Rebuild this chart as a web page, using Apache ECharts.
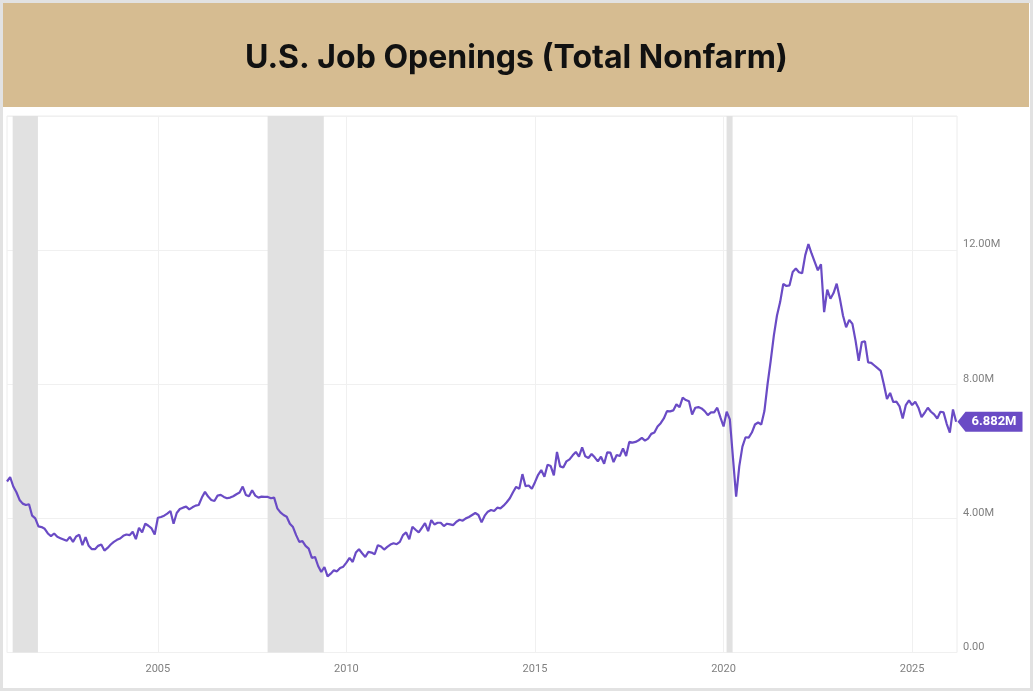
<!DOCTYPE html>
<html><head><meta charset="utf-8">
<script src="https://cdn.jsdelivr.net/npm/echarts@6/dist/echarts.min.js"></script>
<style>
html,body{margin:0;padding:0;background:#fff;}
#frame{position:absolute;left:0;top:0;width:1033px;height:691px;box-sizing:border-box;border:3px solid #e2e2e2;background:#fff;}
#head{position:absolute;left:3px;top:3px;width:1026px;height:104px;background:#d6bc91;}
#chart{position:absolute;left:0;top:0;width:1033px;height:691px;}
</style></head><body>
<div id="frame"></div><div id="head"></div><div id="chart"></div>
<script>
// Monthly job openings (millions), starting January 2001
const startYear = 2001;
const openings = [
  5.10,5.23,4.95,4.78,4.55,4.44,4.40,4.42,4.08,4.00,3.76,3.74,
  3.69,3.55,3.47,3.55,3.45,3.41,3.37,3.33,3.45,3.30,3.46,3.51,
  3.20,3.44,3.18,3.08,3.08,3.18,3.22,3.04,3.12,3.22,3.30,3.36,
  3.40,3.48,3.52,3.50,3.60,3.38,3.72,3.58,3.84,3.78,3.70,3.52,
  4.02,4.04,4.08,4.14,4.22,3.84,4.16,4.28,4.32,4.35,4.27,4.33,
  4.38,4.40,4.62,4.79,4.65,4.55,4.52,4.68,4.70,4.64,4.60,4.62,
  4.66,4.72,4.77,4.95,4.70,4.66,4.84,4.68,4.62,4.65,4.64,4.64,
  4.60,4.62,4.30,4.18,4.10,4.05,3.84,3.74,3.50,3.30,3.32,3.18,
  3.10,2.82,2.85,2.58,2.40,2.55,2.27,2.35,2.45,2.42,2.52,2.56,
  2.68,2.82,2.70,2.98,3.08,2.96,2.85,3.00,2.98,2.93,3.20,3.16,
  3.07,3.15,3.22,3.26,3.23,3.30,3.50,3.58,3.38,3.75,3.66,3.58,
  3.72,3.86,3.62,3.95,3.82,3.87,3.87,3.77,3.84,3.82,3.80,3.90,
  3.96,3.93,4.00,4.04,4.10,4.16,4.10,3.88,4.08,4.20,4.25,4.22,
  4.32,4.30,4.38,4.48,4.60,4.78,4.94,4.88,5.32,4.96,4.98,4.88,
  5.08,5.30,5.44,5.24,5.60,5.56,5.28,5.98,5.55,5.52,5.70,5.76,
  5.88,5.98,5.84,6.12,5.85,5.80,5.92,5.82,5.70,5.84,5.63,5.97,
  5.96,5.68,5.89,5.86,6.09,5.86,6.28,6.26,6.28,6.33,6.40,6.32,
  6.38,6.52,6.56,6.74,6.84,6.98,7.20,7.19,7.22,7.40,7.32,7.60,
  7.53,7.49,7.10,7.30,7.32,7.28,7.20,7.08,7.16,7.16,7.30,7.01,
  6.74,7.18,6.95,5.80,4.65,5.55,6.14,6.42,6.41,6.56,6.80,6.86,
  6.80,7.20,8.00,8.70,9.45,10.05,10.45,10.99,10.93,10.95,11.35,11.45,
  11.34,11.31,11.85,12.18,11.90,11.65,11.40,11.58,10.15,10.82,10.55,10.72,
  11.00,10.56,10.05,9.70,9.92,9.80,9.30,8.70,9.26,9.28,8.65,8.64,
  8.56,8.48,8.40,8.00,7.56,7.74,7.47,7.48,7.34,6.98,7.38,7.52,
  7.38,7.48,7.30,7.02,7.15,7.30,7.18,7.10,6.98,7.18,7.16,6.82,
  6.56,7.25,6.882
];
const tickYears = [2005, 2010, 2015, 2020, 2025];
const yTicks = [0, 4, 8, 12, 16];
const recessions = [[2001.15, 2001.82], [2007.91, 2009.40], [2020.08, 2020.24]];
const titleText = 'U.S. Job Openings (Total Nonfarm)';
const lastLabel = '6.882M';
const X_MIN = 2001.0, X_MAX = 2026.19;

const seriesData = openings.map((v, i) => [startYear + i / 12, v]);
const lastValue = openings[openings.length - 1];

const chart = echarts.init(document.getElementById('chart'), null, {renderer: 'canvas'});
chart.setOption({
  backgroundColor: 'transparent',
  animation: false,
  graphic: [{
    type: 'text', left: 'center', top: 42,
    style: {text: titleText, fill: '#111', font: 'bold 32px Inter, Roboto, sans-serif'}
  }],
  grid: {left: 7, right: 76, top: 116, bottom: 38.5, show: true, borderColor: '#ececec', borderWidth: 1, containLabel: false},
  xAxis: {
    type: 'value', min: X_MIN, max: X_MAX,
    axisLine: {show: false},
    axisTick: {show: false, customValues: tickYears},
    axisLabel: {customValues: tickYears, color: '#808080', fontSize: 11, fontFamily: 'Roboto', margin: 11, formatter: v => String(Math.round(v))},
    splitLine: {show: true, lineStyle: {color: '#f0f0f0', width: 1}}
  },
  yAxis: {
    type: 'value', position: 'right', min: yTicks[0], max: yTicks[yTicks.length - 1], interval: 4,
    axisLine: {show: false}, axisTick: {show: false},
    axisLabel: {color: '#808080', fontSize: 11, fontFamily: 'Roboto', margin: 6, verticalAlign: 'bottom', lineHeight: 11,
      formatter: v => v === 0 ? '0.00' : (v >= 16 ? '' : v.toFixed(2) + 'M')},
    splitLine: {show: true, lineStyle: {color: '#f0f0f0', width: 1}}
  },
  series: [{
    type: 'line', data: seriesData, showSymbol: false, clip: true,
    lineStyle: {color: '#6a4bc5', width: 2.2}, itemStyle: {color: '#6a4bc5'},
    markArea: {
      silent: true,
      itemStyle: {color: '#e1e1e1'},
      data: recessions.map(r => [{xAxis: r[0]}, {xAxis: r[1]}])
    },
    markPoint: {
      silent: true,
      symbol: 'path://M0,10 L8,0 L65,0 L65,20 L8,20 Z',
      symbolSize: [65, 20],
      symbolKeepAspect: false,
      symbolOffset: [33, 0],
      itemStyle: {color: '#6a4bc5'},
      label: {show: true, position: 'inside', offset: [4, 0], color: '#fff', fontWeight: 'bold', fontSize: 13, fontFamily: 'Roboto', formatter: lastLabel},
      data: [{coord: [X_MAX, lastValue]}]
    }
  }]
});
</script>
</body></html>
